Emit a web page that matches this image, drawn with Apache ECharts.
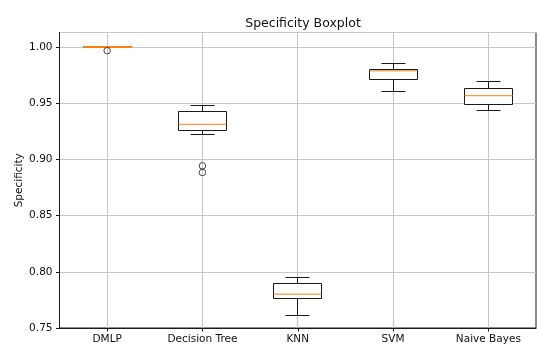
<!DOCTYPE html>
<html>
<head>
<meta charset="utf-8">
<script src="https://cdn.jsdelivr.net/npm/echarts@6/dist/echarts.min.js"></script>
<style>
  html, body { margin: 0; padding: 0; background: #fff; }
  #chart { width: 537px; height: 345px; }
</style>
</head>
<body>
<div id="chart"></div>
<script>
// Specificity per classifier: five-number summaries plus flier points
const categories = ['DMLP', 'Decision Tree', 'KNN', 'SVM', 'Naive Bayes'];
const lowerWhisker = [1.0000, 0.9220, 0.7615, 0.9601, 0.9436];
const q1           = [1.0000, 0.9255, 0.7763, 0.9711, 0.9486];
const median       = [1.0000, 0.9312, 0.7801, 0.9787, 0.9566];
const q3           = [1.0000, 0.9421, 0.7897, 0.9802, 0.9628];
const upperWhisker = [1.0000, 0.9477, 0.7950, 0.9853, 0.9696];
const flierIndex   = [0, 1, 1];
const flierValue   = [0.9966, 0.8942, 0.8883];
const yTicks       = [0.75, 0.80, 0.85, 0.90, 0.95, 1.00];

const FONT = 'DejaVu Sans';

const boxData = categories.map((c, i) =>
  [i, lowerWhisker[i], q1[i], median[i], q3[i], upperWhisker[i]]);
const flierData = flierIndex.map((ci, k) => [ci, flierValue[k]]);

// put 1px strokes on pixel centres so they stay crisp
const snap = v => Math.round(v - 0.5) + 0.5;

function renderBox(params, api) {
  const idx = api.value(0);
  const yLo = snap(api.coord([idx, api.value(1)])[1]);
  const yQ1 = snap(api.coord([idx, api.value(2)])[1]);
  const yMed = api.coord([idx, api.value(3)])[1];
  const yQ3 = snap(api.coord([idx, api.value(4)])[1]);
  const yHi = snap(api.coord([idx, api.value(5)])[1]);
  const band = api.size([1, 0])[0];
  const x = snap(api.coord([idx, api.value(3)])[0]);
  const halfBox = Math.round(band * 0.25);
  const halfCap = Math.round(band * 0.125);
  const cs = params.coordSys;
  const collapsed = yQ1 - yQ3 < 2;
  const line = { stroke: '#1a1a1a', lineWidth: 1, fill: null };
  return {
    type: 'group',
    children: [
      // vertical grid line at the category centre
      { type: 'line', shape: { x1: x, y1: cs.y, x2: x, y2: cs.y + cs.height },
        style: { stroke: '#c6c6c6', lineWidth: 1 } },
      { type: 'line', shape: { x1: x, y1: yLo, x2: x, y2: yQ1 }, style: line },
      { type: 'line', shape: { x1: x, y1: yQ3, x2: x, y2: yHi }, style: line },
      { type: 'line', shape: { x1: x - halfCap, y1: yLo, x2: x + halfCap, y2: yLo }, style: line },
      { type: 'line', shape: { x1: x - halfCap, y1: yHi, x2: x + halfCap, y2: yHi }, style: line },
      { type: 'rect',
        shape: { x: x - halfBox, y: yQ3, width: halfBox * 2, height: yQ1 - yQ3 },
        style: { fill: '#fff', stroke: '#1a1a1a', lineWidth: 1 } },
      { type: 'line', shape: { x1: x - halfBox, y1: yMed, x2: x + halfBox, y2: yMed },
        style: { stroke: '#ff7f0e', lineWidth: collapsed ? 2 : 1 } }
    ]
  };
}

const chart = echarts.init(document.getElementById('chart'), null, { renderer: 'canvas' });
chart.setOption({
  animation: false,
  backgroundColor: '#fff',
  title: {
    text: 'Specificity Boxplot',
    left: 298, top: 12, textAlign: 'center',
    textStyle: { fontFamily: FONT, fontSize: 12.5, fontWeight: 'normal', color: '#111' }
  },
  grid: {
    left: 59.5, right: 1, top: 32.5, bottom: 16.5,
    show: true, borderColor: '#1a1a1a', borderWidth: 1, backgroundColor: 'transparent'
  },
  xAxis: {
    type: 'category',
    data: categories,
    boundaryGap: true,
    axisLine: { show: true, lineStyle: { color: '#1a1a1a', width: 1 } },
    axisTick: { show: true, alignWithLabel: true, length: 3.5, lineStyle: { color: '#1a1a1a' } },
    axisLabel: { fontFamily: FONT, fontSize: 10.5, color: '#111', margin: 6 },
    splitLine: { show: false }
  },
  yAxis: {
    type: 'value',
    name: 'Specificity',
    nameLocation: 'middle',
    nameGap: 35,
    nameMoveOverlap: false,
    nameTextStyle: { fontFamily: FONT, fontSize: 10.5, color: '#111' },
    min: yTicks[0],
    max: 1.0128,
    interval: 0.05,
    axisLine: { show: true, lineStyle: { color: '#1a1a1a', width: 1 } },
    axisTick: { show: true, length: 3.5, lineStyle: { color: '#1a1a1a' } },
    axisLabel: {
      fontFamily: FONT, fontSize: 10.5, color: '#111', margin: 7,
      showMaxLabel: false,
      formatter: v => (yTicks.some(t => Math.abs(t - v) < 1e-9) ? v.toFixed(2) : '')
    },
    splitLine: { show: true, lineStyle: { color: '#c6c6c6', width: 1 } }
  },
  series: [
    {
      type: 'custom',
      renderItem: renderBox,
      data: boxData,
      encode: { x: 0, y: [1, 2, 3, 4, 5] },
      z: 2
    },
    {
      type: 'scatter',
      data: flierData,
      symbol: 'circle',
      symbolSize: 6.5,
      itemStyle: { color: 'rgba(0,0,0,0)', borderColor: '#1a1a1a', borderWidth: 1 },
      z: 3
    }
  ]
});
</script>
</body>
</html>
